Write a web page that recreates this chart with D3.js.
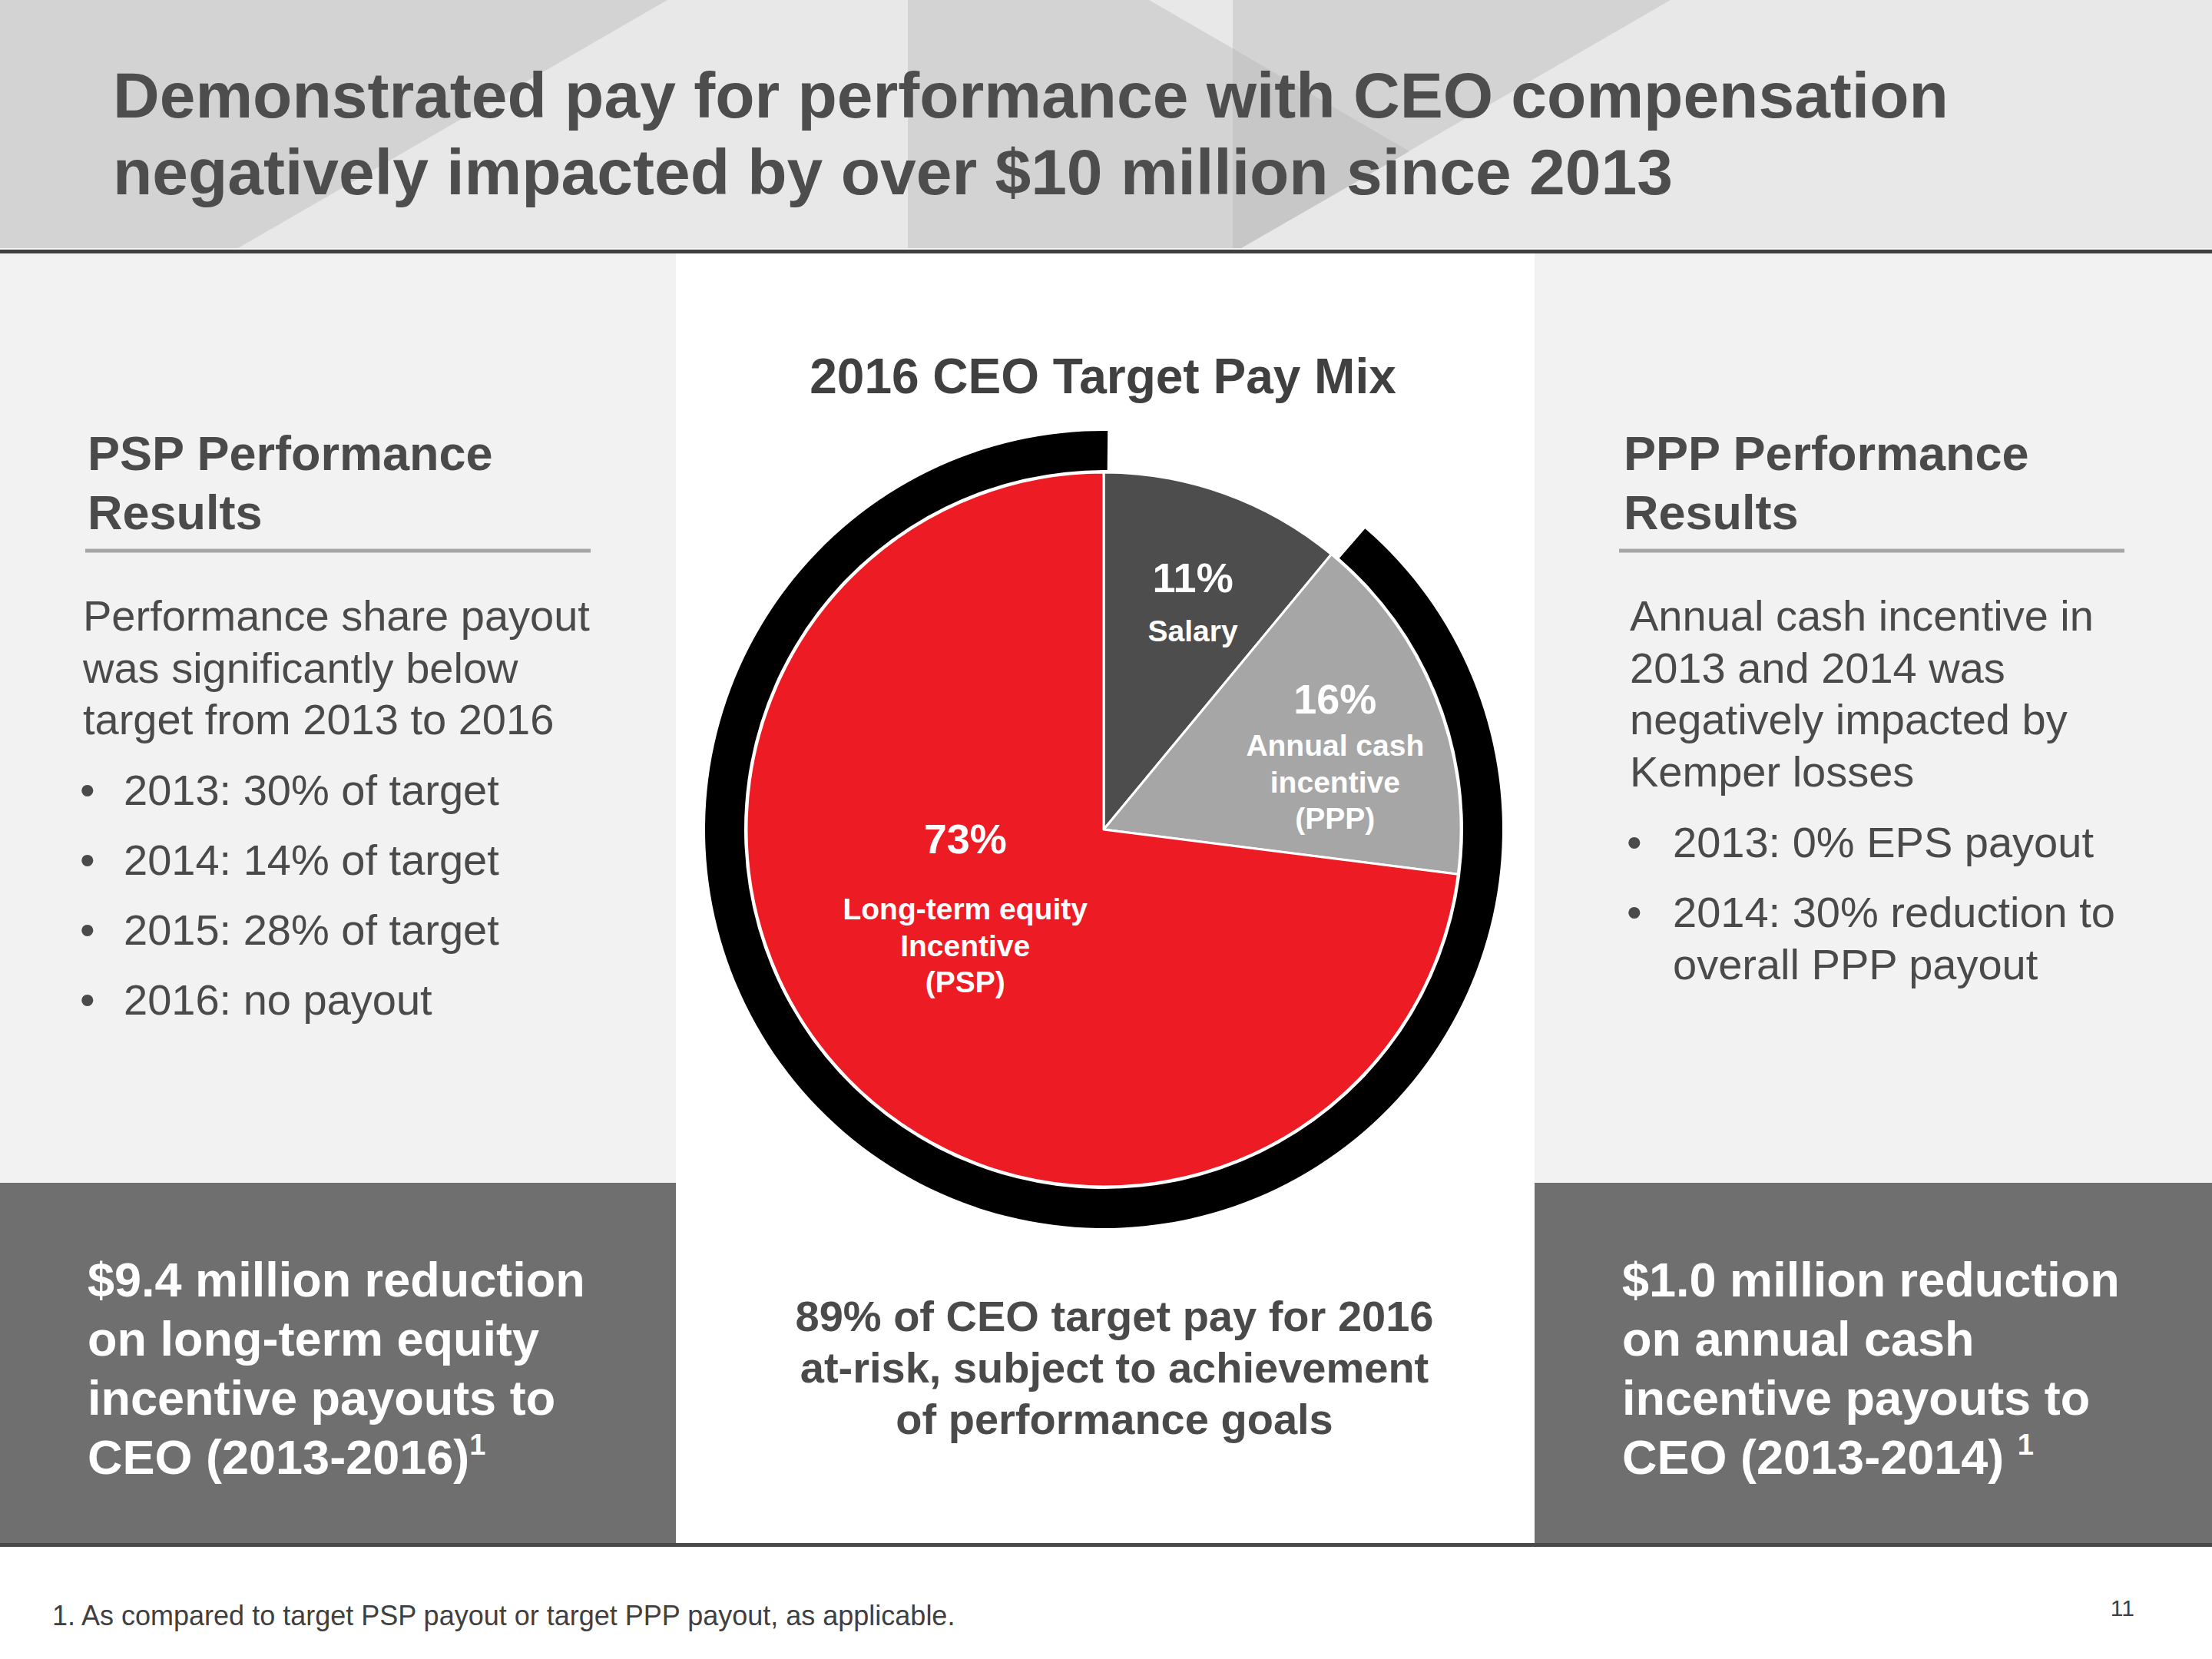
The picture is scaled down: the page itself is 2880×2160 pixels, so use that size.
<!DOCTYPE html>
<html>
<head>
<meta charset="utf-8">
<script src="https://cdn.jsdelivr.net/npm/d3@7/dist/d3.min.js"></script>
<style>
  html, body { margin: 0; padding: 0; background: #ffffff; }
  svg { display: block; }
  text { font-family: "Liberation Sans", Arial, Helvetica, sans-serif; }
</style>
</head>
<body>
<svg id="chart" width="2880" height="2160"></svg>
<script>
// ---------------- DATA ----------------
const titleLines = [
  "Demonstrated pay for performance with CEO compensation",
  "negatively impacted by over $10 million since 2013"
];
const chartTitle = "2016 CEO Target Pay Mix";
const sliceNames = ["Salary", "PPP", "PSP"];
const sliceValues = [11, 16, 73];
const slicePercentLabels = ["11%", "16%", "73%"];
const sliceTextLines = [
  ["Salary"],
  ["Annual cash", "incentive", "(PPP)"],
  ["Long-term equity", "Incentive", "(PSP)"]
];
const sliceColors = ["#4d4d4d", "#a6a6a6", "#ed1c24"];
const atRiskPercent = 89;

const leftHeading = ["PSP Performance", "Results"];
const leftBody = ["Performance share payout", "was significantly below", "target from 2013 to 2016"];
const leftBullets = [["2013: 30% of target"], ["2014: 14% of target"], ["2015: 28% of target"], ["2016: no payout"]];

const rightHeading = ["PPP Performance", "Results"];
const rightBody = ["Annual cash incentive in", "2013 and 2014 was", "negatively impacted by", "Kemper losses"];
const rightBullets = [["2013: 0% EPS payout"], ["2014: 30% reduction to", "overall PPP payout"]];

const leftCallout = ["$9.4 million reduction", "on long-term equity", "incentive payouts to", "CEO (2013-2016)"];
const leftCalloutSup = "1";
const rightCallout = ["$1.0 million reduction", "on annual cash", "incentive payouts to", "CEO (2013-2014) "];
const rightCalloutSup = "1";
const centerCallout = ["89% of CEO target pay for 2016", "at-risk, subject to achievement", "of performance goals"];
const footnote = "1. As compared to target PSP payout or target PPP payout, as applicable.";
const pageNumber = "11";

// ---------------- LAYOUT ----------------
const W = 2880, H = 2160;
const svg = d3.select("#chart");
const textDark = "#4a4a4a";

// Header background
const headerH = 323;
svg.append("rect").attr("x", 0).attr("y", 0).attr("width", W).attr("height", headerH).attr("fill", "#e8e8e8");
const headerShapes = [
  { pts: [[0,0],[869,0],[310,headerH],[0,headerH]], fill: "#d3d3d3" },
  { pts: [[1182,0],[1496,0],[1605,63],[1605,headerH],[1182,headerH]], fill: "#d3d3d3" },
  { pts: [[1605,0],[2175,0],[1616,headerH],[1605,headerH]], fill: "#d3d3d3" },
  { pts: [[1605,63],[1835,197],[1616,headerH],[1605,headerH]], fill: "#c7c7c7" }
];
svg.selectAll("polygon.hdr").data(headerShapes).enter().append("polygon")
  .attr("class", "hdr")
  .attr("points", d => d.pts.map(p => p.join(",")).join(" "))
  .attr("fill", d => d.fill);
svg.append("rect").attr("x", 0).attr("y", headerH).attr("width", W).attr("height", 2).attr("fill", "#f4f4f4");
svg.append("rect").attr("x", 0).attr("y", 325).attr("width", W).attr("height", 5).attr("fill", "#404040");

// Title
svg.append("g").selectAll("text").data(titleLines).enter().append("text")
  .attr("x", 147).attr("y", (d, i) => 153 + i * 100)
  .attr("font-size", 84).attr("font-weight", "bold").attr("fill", "#4d4d4d")
  .text(d => d);

// Panels
const panelTop = 330, calloutTop = 1540, panelBottom = 2009;
svg.append("rect").attr("x", 0).attr("y", panelTop).attr("width", 880).attr("height", calloutTop - panelTop).attr("fill", "#f2f2f2");
svg.append("rect").attr("x", 1998).attr("y", panelTop).attr("width", W - 1998).attr("height", calloutTop - panelTop).attr("fill", "#f2f2f2");
svg.append("rect").attr("x", 880).attr("y", panelTop).attr("width", 1118).attr("height", panelBottom - panelTop).attr("fill", "#ffffff");
svg.append("rect").attr("x", 0).attr("y", calloutTop).attr("width", 880).attr("height", panelBottom - calloutTop).attr("fill", "#6f6f6f");
svg.append("rect").attr("x", 1998).attr("y", calloutTop).attr("width", W - 1998).attr("height", panelBottom - calloutTop).attr("fill", "#6f6f6f");
svg.append("rect").attr("x", 0).attr("y", panelBottom).attr("width", W).attr("height", 5).attr("fill", "#4a4a4a");

// Side panels
function sidePanel(x0, heading, body, bullets, ruleX1, ruleX2, bodyX, bulletX, textX) {
  const g = svg.append("g");
  g.selectAll("text.h").data(heading).enter().append("text")
    .attr("class", "h").attr("x", x0).attr("y", (d, i) => 612 + i * 77)
    .attr("font-size", 63).attr("font-weight", "bold").attr("fill", textDark).text(d => d);
  g.append("line").attr("x1", ruleX1).attr("x2", ruleX2).attr("y1", 717).attr("y2", 717)
    .attr("stroke", "#a6a6a6").attr("stroke-width", 5);
  g.selectAll("text.b").data(body).enter().append("text")
    .attr("class", "b").attr("x", bodyX).attr("y", (d, i) => 821 + i * 67.5)
    .attr("font-size", 56).attr("fill", textDark).text(d => d);
  let y = 821 + (body.length - 1) * 67.5 + 92;
  bullets.forEach(lines => {
    g.append("text").attr("x", bulletX).attr("y", y).attr("font-size", 56).attr("fill", textDark).text("\u2022");
    lines.forEach((ln, j) => {
      g.append("text").attr("x", textX).attr("y", y + j * 68).attr("font-size", 56).attr("fill", textDark).text(ln);
    });
    y += (lines.length - 1) * 68 + 91;
  });
}
sidePanel(114, leftHeading, leftBody, leftBullets, 111, 769, 108, 104, 161);
sidePanel(2114, rightHeading, rightBody, rightBullets, 2108, 2766, 2122, 2118, 2178);

// Callouts
function callout(x, lines, sup) {
  const g = svg.append("g");
  lines.forEach((ln, i) => {
    const t = g.append("text").attr("x", x).attr("y", 1688 + i * 77)
      .attr("font-size", 63).attr("font-weight", "bold").attr("fill", "#ffffff");
    t.append("tspan").text(ln);
    if (i === lines.length - 1) {
      t.append("tspan").attr("font-size", 38).attr("dy", -25).text(sup);
    }
  });
}
callout(114, leftCallout, leftCalloutSup);
callout(2112, rightCallout, rightCalloutSup);

svg.append("g").selectAll("text").data(centerCallout).enter().append("text")
  .attr("x", 1451).attr("y", (d, i) => 1733 + i * 67)
  .attr("text-anchor", "middle").attr("font-size", 56).attr("font-weight", "bold").attr("fill", textDark)
  .text(d => d);

// Footer
svg.append("text").attr("x", 68).attr("y", 2116).attr("font-size", 36).attr("fill", "#404040").text(footnote);
svg.append("text").attr("x", 2779).attr("y", 2104).attr("text-anchor", "end").attr("font-size", 30).attr("fill", "#404040").text(pageNumber);

// ---------------- PIE ----------------
const cx = 1437, cy = 1080;
const pieR = 465, ringInner = 468, ringOuter = 519;

svg.append("text").attr("x", cx - 1).attr("y", 512).attr("text-anchor", "middle")
  .attr("font-size", 64).attr("font-weight", "bold").attr("fill", "#404040").text(chartTitle);

const pieData = d3.pie().sort(null).value(d => d).startAngle(0).endAngle(2 * Math.PI)(sliceValues);
const arc = d3.arc().innerRadius(0).outerRadius(pieR);
const pg = svg.append("g").attr("transform", `translate(${cx},${cy})`);

// at-risk ring
const ringScale = d3.scaleLinear().domain([0, 100]).range([0, 2 * Math.PI]);
const ringPadStart = 0.024, ringPadEnd = 0.01;
pg.append("path")
  .attr("d", d3.arc().innerRadius(ringInner).outerRadius(ringOuter)
    .startAngle(ringScale(100 - atRiskPercent) + ringPadStart)
    .endAngle(ringScale(100) + ringPadEnd)())
  .attr("fill", "#000000");

pg.selectAll("path.slice").data(pieData).enter().append("path")
  .attr("class", "slice")
  .attr("d", arc)
  .attr("fill", (d, i) => sliceColors[i])
  .attr("stroke", "#ffffff").attr("stroke-width", 3).attr("stroke-linejoin", "round");

// labels: anchor (percent baseline) in polar coords relative to slice mid-angle
const labelLayout = [
  { r: 330, dA: 0.8, dy: [64] },
  { r: 337, dA: -5.0, dy: [55, 103, 150] },
  { r: 183, dA: 31.6, dy: [86, 134, 181] }
];
pieData.forEach((d, i) => {
  const L = labelLayout[i];
  const a = (d.startAngle + d.endAngle) / 2 + L.dA * Math.PI / 180;
  const x = L.r * Math.sin(a), y = -L.r * Math.cos(a);
  pg.append("text").attr("x", x).attr("y", y).attr("text-anchor", "middle")
    .attr("font-size", 54).attr("font-weight", "bold").attr("fill", "#ffffff").text(slicePercentLabels[i]);
  sliceTextLines[i].forEach((ln, j) => {
    pg.append("text").attr("x", x).attr("y", y + L.dy[j]).attr("text-anchor", "middle")
      .attr("font-size", 39).attr("font-weight", "bold").attr("fill", "#ffffff").text(ln);
  });
});
</script>
</body>
</html>
